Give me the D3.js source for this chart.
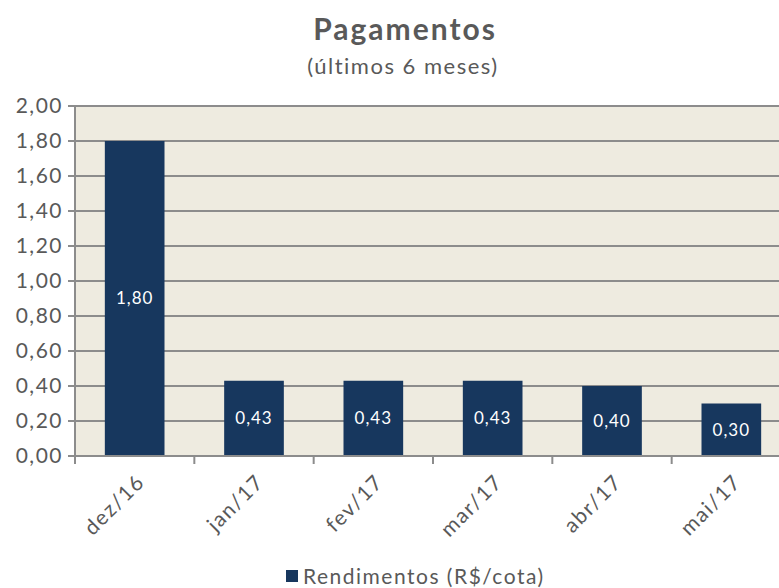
<!DOCTYPE html>
<html>
<head>
<meta charset="utf-8">
<script src="https://cdn.jsdelivr.net/npm/d3@7"></script>
<style>
  body { margin: 0; background: #fff; }
  text { font-family: Lato, "Open Sans", sans-serif; fill: #595959; letter-spacing: 1.5px; }
</style>
</head>
<body>
<svg id="chart"></svg>
<script>
// dados
var meses = ["dez/16", "jan/17", "fev/17", "mar/17", "abr/17", "mai/17"];
var rendimentos = [1.80, 0.43, 0.43, 0.43, 0.40, 0.30];
var yTicks = [0, 0.2, 0.4, 0.6, 0.8, 1.0, 1.2, 1.4, 1.6, 1.8, 2.0];
var serieNome = "Rendimentos (R$/cota)";

var width = 779, height = 588;
// margens da área de plotagem (não usar "top", conflita com window.top)
var plotL = 75, plotR = 791, plotT = 106, plotB = 456;

var fmt = function(v) { return d3.format(".2f")(v).replace(".", ","); };

var svg = d3.select("#chart")
    .attr("width", width)
    .attr("height", height);

var x = d3.scaleBand()
    .domain(meses)
    .range([plotL, plotR])
    .paddingInner(0.5)
    .paddingOuter(0.25);

var y = d3.scaleLinear()
    .domain([0, 2])
    .range([plotB, plotT]);

// fundo da área de plotagem
svg.append("rect")
    .attr("x", plotL)
    .attr("y", plotT)
    .attr("width", plotR - plotL)
    .attr("height", plotB - plotT)
    .attr("fill", "#EEEBE0");

// linhas de grade
svg.selectAll(".grid")
    .data(yTicks)
  .enter().append("line")
    .attr("x1", plotL - 7)
    .attr("x2", plotR)
    .attr("y1", d => y(d))
    .attr("y2", d => y(d))
    .attr("stroke", "#8C8C8C")
    .attr("stroke-width", 2);

// eixo y
svg.append("line")
    .attr("x1", plotL).attr("x2", plotL)
    .attr("y1", plotT).attr("y2", plotB)
    .attr("stroke", "#8C8C8C")
    .attr("stroke-width", 2);

svg.selectAll(".ylab")
    .data(yTicks)
  .enter().append("text")
    .attr("x", plotL - 12)
    .attr("y", d => y(d))
    .attr("dy", "0.35em")
    .attr("text-anchor", "end")
    .attr("font-size", "21px")
    .text(fmt);

// barras
svg.selectAll(".bar")
    .data(rendimentos)
  .enter().append("rect")
    .attr("x", (d, i) => x(meses[i]))
    .attr("width", x.bandwidth())
    .attr("y", d => y(d))
    .attr("height", d => plotB - y(d))
    .attr("fill", "#17375E");

svg.selectAll(".val")
    .data(rendimentos)
  .enter().append("text")
    .attr("x", (d, i) => x(meses[i]) + x.bandwidth() / 2)
    .attr("y", d => (y(d) + plotB) / 2)
    .attr("dy", "0.35em")
    .attr("text-anchor", "middle")
    .attr("font-size", "17px")
    .style("letter-spacing", "1px")
    .style("fill", "#fff")
    .text(fmt);

// eixo x
svg.append("line")
    .attr("x1", plotL).attr("x2", plotR)
    .attr("y1", plotB).attr("y2", plotB)
    .attr("stroke", "#8C8C8C")
    .attr("stroke-width", 2);

var step = x.step();
svg.selectAll(".xtick")
    .data(d3.range(meses.length + 1))
  .enter().append("line")
    .attr("x1", i => plotL + i * step)
    .attr("x2", i => plotL + i * step)
    .attr("y1", plotB)
    .attr("y2", plotB + 8)
    .attr("stroke", "#8C8C8C")
    .attr("stroke-width", 2);

svg.selectAll(".xlab")
    .data(meses)
  .enter().append("text")
    .attr("transform", d => "translate(" + (x(d) + x.bandwidth() / 2 + 6) + "," + (plotB + 22) + ") rotate(-45)")
    .attr("text-anchor", "end")
    .attr("dy", "0.35em")
    .attr("font-size", "21px")
    .text(d => d);

// título
svg.append("text")
    .attr("x", 405)
    .attr("y", 40)
    .attr("text-anchor", "middle")
    .attr("font-size", "30px")
    .attr("font-weight", "bold")
    .style("letter-spacing", "2px")
    .text("Pagamentos");

svg.append("text")
    .attr("x", 403)
    .attr("y", 74)
    .attr("text-anchor", "middle")
    .attr("font-size", "22px")
    .text("(últimos 6 meses)");

// legenda
svg.append("rect")
    .attr("x", 286)
    .attr("y", 570)
    .attr("width", 12)
    .attr("height", 12)
    .attr("fill", "#17375E");

svg.append("text")
    .attr("x", 303)
    .attr("y", 577)
    .attr("dy", "0.35em")
    .attr("font-size", "21px")
    .text(serieNome);
</script>
</body>
</html>
